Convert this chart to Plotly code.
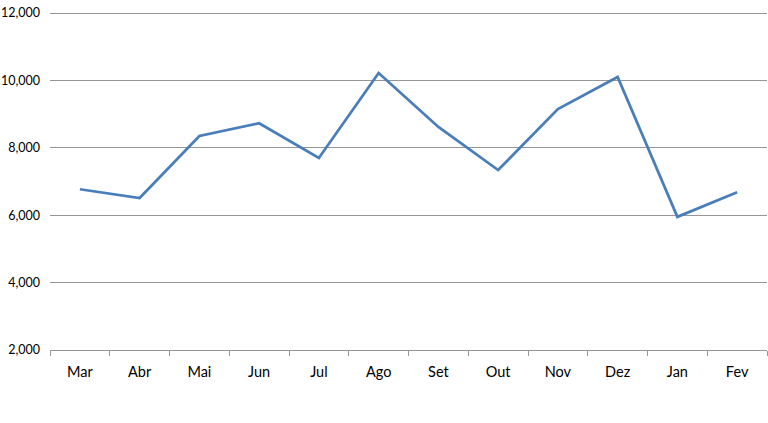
import plotly.graph_objects as go

months = ["Mar", "Abr", "Mai", "Jun", "Jul", "Ago", "Set", "Out", "Nov", "Dez", "Jan", "Fev"]
values = [6770, 6510, 8350, 8730, 7700, 10220, 8620, 7340, 9150, 10100, 5950, 6680]
y_ticks = [2000, 4000, 6000, 8000, 10000, 12000]

fig = go.Figure()
fig.add_trace(go.Scatter(x=months, y=values, mode="lines",
                         line=dict(color="#4A7EBB", width=2.75)))

fig.update_layout(
    width=768, height=423,
    margin=dict(l=50, r=1, t=12, b=73, autoexpand=False),
    paper_bgcolor="white", plot_bgcolor="white",
    showlegend=False,
    font=dict(family="Lato, Calibri, sans-serif", color="#000000"),
)
fig.update_xaxes(
    type="category", range=[-0.5, 11.5], automargin=False,
    showgrid=False, showline=True, linecolor="#969696", linewidth=1,
    ticks="outside", tickson="boundaries", ticklen=5, tickcolor="#969696",
    tickfont=dict(size=14.5), ticklabelstandoff=9,
)
fig.update_yaxes(
    range=[2000, 12030], tickvals=y_ticks, tickformat=",d", automargin=False,
    showgrid=True, gridcolor="#969696", gridwidth=1,
    zeroline=False, showline=False,
    tickfont=dict(size=12.5), ticks="", ticklabelstandoff=9,
)
fig.write_html("out.html", config={"displayModeBar": False},
               post_script="document.body.style.margin='0';document.body.style.padding='0';")
